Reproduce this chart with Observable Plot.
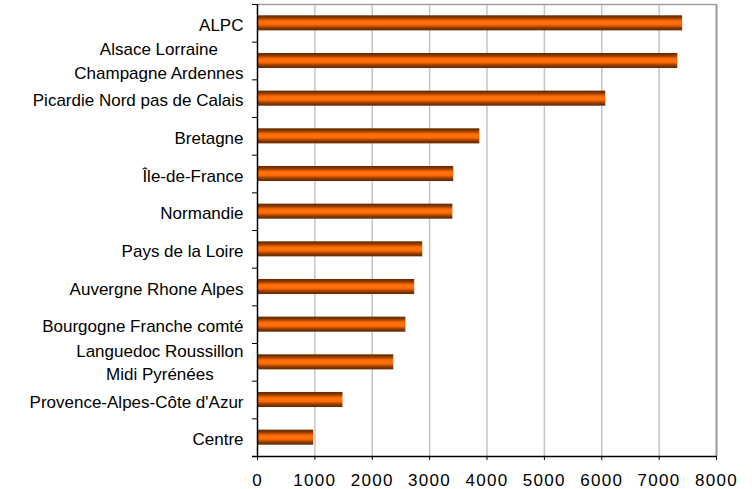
<!DOCTYPE html>
<html><head><meta charset="utf-8">
<script src="https://cdn.jsdelivr.net/npm/d3@7"></script>
<script src="https://cdn.jsdelivr.net/npm/@observablehq/plot@0.6"></script>
<style>html,body{margin:0;padding:0;background:#fff} svg{display:block}</style>
</head><body><div id="chart"></div>
<script>
const regions = [
  "ALPC",
  "Alsace Lorraine\nChampagne Ardennes",
  "Picardie Nord pas de Calais",
  "Bretagne",
  "Île-de-France",
  "Normandie",
  "Pays de la Loire",
  "Auvergne Rhone Alpes",
  "Bourgogne Franche comté",
  "Languedoc Roussillon\nMidi Pyrénées",
  "Provence-Alpes-Côte d'Azur",
  "Centre"
];
const values = [7410, 7325, 6070, 3875, 3420, 3405, 2880, 2740, 2585, 2375, 1490, 980];
const xTicks = [0, 1000, 2000, 3000, 4000, 5000, 6000, 7000, 8000];

const data = regions.map((r, i) => ({region: r, value: values[i]}));

const W = 752, H = 489, mt = 4, mb = 33, ml = 257, mr = 36;
const step = (H - mt - mb) / regions.length;

const chart = Plot.plot({
  width: W, height: H,
  marginTop: mt, marginBottom: mb, marginLeft: ml, marginRight: mr,
  style: {fontFamily: "'Liberation Sans', Arial, sans-serif", fontSize: "17px", color: "#000", background: "#fff"},
  x: {domain: [0, 8000]},
  y: {domain: regions, paddingInner: 0.6, paddingOuter: 0.3, round: false},
  marks: [
    Plot.ruleX(xTicks.slice(1, -1), {stroke: "#c4c4c4", strokeWidth: 1.5}),
    Plot.ruleX([8000], {stroke: "#999", strokeWidth: 2}),
    Plot.ruleY([regions[0]], {dy: -step / 2, stroke: "#a0a0a0", strokeWidth: 1.5}),
    Plot.barX(data, {x: "value", y: "region", fill: "url(#barGrad)"}),
    Plot.ruleX([0], {stroke: "#000", strokeWidth: 1.5}),
    Plot.ruleY([regions[regions.length - 1]], {dy: step / 2, insetLeft: -5, stroke: "#000", strokeWidth: 1.5}),
    Plot.axisY({tickSize: 5, tickFormat: () => "", dy: -step / 2, stroke: "#000", label: null}),
    Plot.axisY({tickSize: 0, tickPadding: 14, lineHeight: 1.41, fontSize: 17, label: null}),
    Plot.axisX({ticks: xTicks, tickFormat: d => String(d), tickSize: 4, tickPadding: 13, fontSize: 17, label: null, stroke: "#000"})
  ]
});

document.getElementById("chart").appendChild(chart);

// gradient for cylinder-like bars
const svg = d3.select(chart);
const defs = svg.insert("defs", ":first-child");
const grad = defs.append("linearGradient").attr("id", "barGrad")
  .attr("x1", 0).attr("y1", 0).attr("x2", 0).attr("y2", 1);
[
  [0, "#6a2a00"], [0.12, "#7a3300"], [0.24, "#b04a00"], [0.36, "#ff6600"],
  [0.5, "#ff7512"], [0.64, "#ff6600"], [0.76, "#b04a00"], [0.88, "#7a3300"], [1, "#6a2a00"]
].forEach(([o, c]) => grad.append("stop").attr("offset", o).attr("stop-color", c));

// x tick labels slightly wider spacing
chart.querySelectorAll('g[aria-label="x-axis tick label"] text').forEach(t => {
  t.style.letterSpacing = "1.3px";
});

// center multi-line labels within their block (Excel style)
chart.querySelectorAll("text").forEach(t => {
  const spans = t.querySelectorAll("tspan");
  if (spans.length > 1) {
    let maxW = 0;
    spans.forEach(s => { maxW = Math.max(maxW, s.getComputedTextLength()); });
    spans.forEach(s => { s.setAttribute("x", -maxW / 2); s.setAttribute("text-anchor", "middle"); });
    t.setAttribute("text-anchor", "middle");
    const tr = t.getAttribute("transform") || "";
    t.setAttribute("transform", tr + " translate(0,-1.5)");
  }
});
</script>
</body></html>
